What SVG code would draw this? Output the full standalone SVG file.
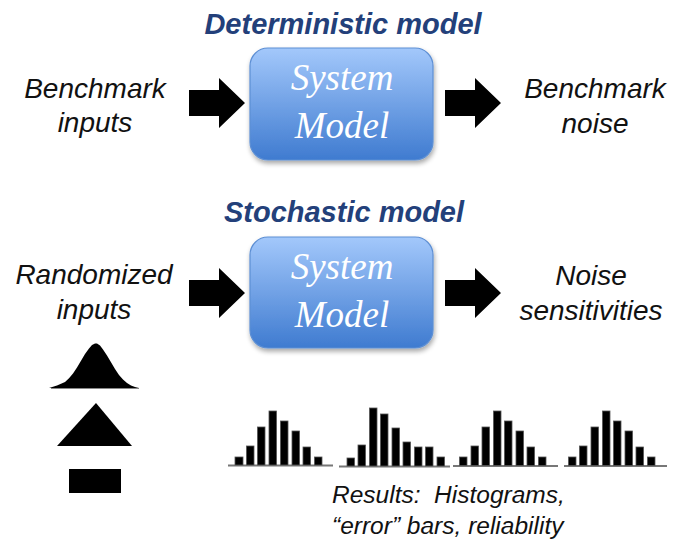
<svg xmlns="http://www.w3.org/2000/svg" width="673" height="540" viewBox="0 0 673 540">
<defs>
<linearGradient id="boxg" x1="0" y1="0" x2="0" y2="1">
<stop offset="0" stop-color="#a3c8fb"/>
<stop offset="1" stop-color="#3f7bd0"/>
</linearGradient>
<filter id="sh" x="-10%" y="-10%" width="130%" height="130%">
<feGaussianBlur in="SourceAlpha" stdDeviation="2.5"/>
<feOffset dx="1" dy="3" result="b"/>
<feComponentTransfer><feFuncA type="linear" slope="0.35"/></feComponentTransfer>
<feMerge><feMergeNode/><feMergeNode in="SourceGraphic"/></feMerge>
</filter>
<polygon id="arrow" points="0,-13 30,-13 30,-25 56,0 30,25 30,13 0,13"/>
</defs>
<style>
.title{font-family:"Liberation Sans",Arial,sans-serif;font-weight:bold;font-style:italic;font-size:29px;fill:#23407a;text-anchor:middle}
.lbl{font-family:"Liberation Sans",Arial,sans-serif;font-style:italic;font-size:28px;fill:#111;text-anchor:middle}
.res{font-family:"Liberation Sans",Arial,sans-serif;font-style:italic;font-size:24.5px;fill:#111;text-anchor:start;white-space:pre}
.box{fill:url(#boxg);stroke:#5d8fd4;stroke-width:1.2;filter:url(#sh)}
.bt{font-family:"Liberation Serif","Times New Roman",serif;font-style:italic;font-size:37px;fill:#fff;text-anchor:middle}
.arr{fill:#000}
.bar{fill:#000;stroke:#555;stroke-width:0.8}
.base{stroke:#777;stroke-width:2}
</style>
<rect width="673" height="540" fill="#fff"/>

<text class="title" x="343" y="34">Deterministic model</text>
<text class="title" x="344" y="222">Stochastic model</text>

<g id="in1"><text class="lbl" x="95" y="98">Benchmark</text><text class="lbl" x="95" y="132">inputs</text></g>
<g id="model1"><rect class="box" x="250" y="48" width="183" height="112" rx="18"/><text class="bt" x="342" y="90">System</text><text class="bt" x="342" y="138">Model</text></g>
<g id="out1"><text class="lbl" x="595" y="98">Benchmark</text><text class="lbl" x="595" y="133">noise</text></g>

<g id="in2"><text class="lbl" x="94" y="284">Randomized</text><text class="lbl" x="94" y="319">inputs</text></g>
<g id="model2"><rect class="box" x="250" y="237" width="183" height="111" rx="18"/><text class="bt" x="342" y="279">System</text><text class="bt" x="342" y="327">Model</text></g>
<g id="out2"><text class="lbl" x="591" y="285">Noise</text><text class="lbl" x="591" y="320">sensitivities</text></g>

<g id="connectors">
<use href="#arrow" class="arr" x="189" y="103"/>
<use href="#arrow" class="arr" x="445" y="103"/>
<use href="#arrow" class="arr" x="189" y="293"/>
<use href="#arrow" class="arr" x="445" y="293"/>
</g>

<g id="distributions">
<polygon points="53,388 57,386.8 61,385.6 65,383.8 69,381.9 73,378.3 77,373.4 81,367.4 85,360.7 89,354 93,348.6 96,345 99,343.4 101,343.4 104,345.5 107,349.5 111,355.5 115,362.3 119,369 123,375 127,379.5 131,383 135,385.5 139,387 143,388" fill="#000" transform="translate(-4,0)"/>
<line x1="51" y1="388.5" x2="139" y2="388.5" stroke="#888" stroke-width="1"/>
<polygon points="57,446 96,403 132,446" fill="#000"/>
<rect x="69" y="469" width="52" height="24" fill="#000"/>
</g>

<g id="histograms">
<line class="base" x1="228" y1="465.5" x2="333" y2="465.5"/>
<rect class="bar" x="235" y="457" width="8" height="8"/>
<rect class="bar" x="246.5" y="446" width="7.5" height="19"/>
<rect class="bar" x="257.5" y="427" width="7.5" height="38"/>
<rect class="bar" x="269" y="411" width="7.5" height="54"/>
<rect class="bar" x="280.5" y="421" width="7.5" height="44"/>
<rect class="bar" x="292" y="431" width="7.5" height="34"/>
<rect class="bar" x="303" y="447" width="7.5" height="18"/>
<rect class="bar" x="314.5" y="457" width="7.5" height="8"/>

<line class="base" x1="339" y1="466.5" x2="450" y2="466.5"/>
<rect class="bar" x="347" y="458" width="7.5" height="8"/>
<rect class="bar" x="358" y="445" width="7.5" height="21"/>
<rect class="bar" x="369.5" y="408" width="7.5" height="58"/>
<rect class="bar" x="380.5" y="414" width="7.5" height="52"/>
<rect class="bar" x="392" y="428" width="7.5" height="38"/>
<rect class="bar" x="403" y="442" width="7.5" height="24"/>
<rect class="bar" x="414.5" y="447" width="7.5" height="19"/>
<rect class="bar" x="425.5" y="447" width="7.5" height="19"/>
<rect class="bar" x="437" y="457" width="7.5" height="9"/>

<line class="base" x1="453" y1="466" x2="558" y2="466"/>
<rect class="bar" x="459.5" y="457" width="7.5" height="8.5"/>
<rect class="bar" x="471" y="446" width="7.5" height="19.5"/>
<rect class="bar" x="482" y="427" width="7.5" height="38.5"/>
<rect class="bar" x="493.5" y="411" width="7.5" height="54.5"/>
<rect class="bar" x="504.5" y="421" width="7.5" height="44.5"/>
<rect class="bar" x="516" y="431" width="7.5" height="34.5"/>
<rect class="bar" x="527" y="447" width="7.5" height="18.5"/>
<rect class="bar" x="538.5" y="457" width="7.5" height="8.5"/>

<line class="base" x1="564" y1="466" x2="667" y2="466"/>
<rect class="bar" x="568.5" y="457" width="7.5" height="8.5"/>
<rect class="bar" x="579.5" y="446" width="7.5" height="19.5"/>
<rect class="bar" x="591" y="427" width="7.5" height="38.5"/>
<rect class="bar" x="602.5" y="411" width="7.5" height="54.5"/>
<rect class="bar" x="613.5" y="421" width="7.5" height="44.5"/>
<rect class="bar" x="625" y="431" width="7.5" height="34.5"/>
<rect class="bar" x="636" y="447" width="7.5" height="18.5"/>
<rect class="bar" x="647.5" y="457" width="7.5" height="8.5"/>
</g>

<text class="res" x="332" y="503">Results:  Histograms,</text>
<text class="res" x="332" y="534">“error” bars, reliability</text>
</svg>
